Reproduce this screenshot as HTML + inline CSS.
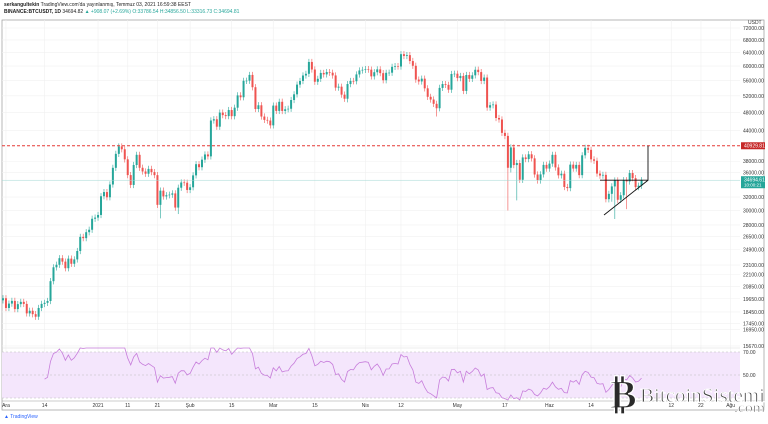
<!DOCTYPE html>
<html><head><meta charset="utf-8"><style>
body{margin:0;background:#fff;font-family:"Liberation Sans",sans-serif}
#w{position:relative;width:768px;height:424px;overflow:hidden}
.t{position:absolute;font-size:5px;color:#222;white-space:nowrap}
</style></head><body>
<div id="w">
<div class="t" style="left:4px;top:2px;font-size:5px"><b>serkangultekin</b> TradingView.com'da yayınlanmış, Temmuz 03, 2021 16:59:38 EEST</div>
<div class="t" style="left:4px;top:9px;font-size:5px"><b>BINANCE:BTCUSDT, 1D</b> 34694.82 <span style="color:#26a69a">▲ +908.07 (+2.69%) O:33786.54 H:34856.50 L:33316.73 C:34694.81</span></div>
<svg id="s" width="768" height="424" style="position:absolute;left:0;top:0"></svg>
<div style="position:absolute;left:4px;top:414px;font-size:5px;color:#2962ff">▲ TradingView</div>
<svg width="768" height="424" style="position:absolute;left:0;top:0">
<text x="610" y="408" font-family="Liberation Serif" font-weight="bold" font-size="40" fill="#2a2a2a" stroke="#fff" stroke-width="1.2">₿</text>
<text x="640" y="402" font-family="Liberation Serif" font-size="20" fill="#3a3a3a" stroke="#fff" stroke-width="0.8" textLength="125" lengthAdjust="spacingAndGlyphs">BitcoinSistemi</text>
<text x="734" y="412" font-family="Liberation Serif" font-size="14" fill="#3a3a3a" stroke="#fff" stroke-width="0.6" textLength="31" lengthAdjust="spacingAndGlyphs">.com</text>
</svg>
</div>
<script>
const closes=[19700,18800,19200,19450,18700,19150,19360,19170,18320,18550,18250,18030,18800,19170,19270,19440,21380,22850,23130,23870,23480,22750,23820,23240,23730,24710,26440,26280,27040,27360,28840,29000,
29370,32130,32780,31970,33990,36820,39370,40800,40250,38350,35560,33920,37320,39190,36830,36180,35790,36630,36070,35550,30830,33000,32100,32290,32370,32570,30430,33470,34320,34280,33110,
33540,35510,37470,36930,38290,39260,38900,46200,46480,44850,47990,47410,47190,48580,47170,49130,52120,51650,55890,55920,57490,54200,48820,49700,47090,46340,46190,45140,
49630,48380,50540,48370,48760,48880,50970,52380,54880,55850,57330,57800,61180,59000,55640,56430,58040,57640,58290,58100,57350,54090,54340,52300,51290,55030,55850,55780,57630,58730,58920,
59100,58960,57090,58240,59040,57980,56040,58080,58110,59770,59980,59850,63500,62970,63220,61450,60070,56220,55720,56470,53910,51760,51090,50050,49000,54020,55030,54820,53560,57750,
57830,56630,57210,53240,57470,56430,57380,58930,58280,55860,56770,49150,49720,49880,46760,46430,43540,42910,36830,40600,37310,37680,34770,38700,38400,39290,38530,35660,34650,35680,37340,
36690,37570,39190,36890,35520,35800,33590,33410,37390,36690,37340,35550,39100,40520,40140,38350,38090,35820,35480,35600,31680,32500,33680,34660,31590,32280,34700,34490,35910,35040,
33570,33800,34690];
const lows=[[170,30000],[171,36000],[173,31500],[53,28900],[59,29500],[206,28800],[210,30200],[116,50400],[146,47100],[205,31300]];
const priceTicks=[72000,68000,64000,60000,56000,52000,48000,44000,38000,36000,32000,30000,28000,26500,24900,23100,22100,20850,19650,18450,17450,16950,15670];
const timeLabels=["Ara","14","2021","11","21","Şub","15","Mar","15","Nis","12","May","17","Haz","14","12","22","Ağu"];
const timeDays=[1,14,32,42,52,63,77,91,105,122,134,153,169,184,198,225,235,245];
const resistance=40929.81, last=34694.61;
const NS="http://www.w3.org/2000/svg",S=document.getElementById('s');
const Y=p=>28+208.5*Math.log(72000/p);
const X=i=>3+i*2.97;
const RY=v=>352+(70-v)*1.15;
function el(t,a,p){const e=document.createElementNS(NS,t);for(const k in a)e.setAttribute(k,a[k]);(p||S).appendChild(e);return e;}
let f=el('rect',{x:2,y:20,width:762,height:390,fill:'none',stroke:'#999','stroke-width':0.7});

priceTicks.forEach(p=>{let l=el('line',{x1:2,x2:740,y1:Y(p),y2:Y(p),stroke:'#f0f0f0','stroke-width':0.6});

let t=el('text',{x:743,y:Y(p)+2,'font-size':5,fill:'#333','font-family':'Liberation Sans'});t.textContent=p.toFixed(2);
});
timeLabels.forEach((s,i)=>{const x=X(timeDays[i]);let l=el('line',{x1:x,x2:x,y1:20,y2:400,stroke:'#f0f0f0','stroke-width':0.6});

let t=el('text',{x:x,y:407,'font-size':5,fill:'#333','text-anchor':'middle','font-family':'Liberation Sans'});t.textContent=s;
});
let ut=el('text',{x:748,y:24,'font-size':5,fill:'#333'});ut.textContent='USDT';
let sep=el('line',{x1:2,x2:740,y1:348,y2:348,stroke:'#ddd','stroke-width':0.6});
let tb=el('line',{x1:2,x2:764,y1:401,y2:401,stroke:'#999','stroke-width':0.6});
let band=el('rect',{x:2,y:RY(70),width:738,height:RY(30)-RY(70),fill:'#f4e6fc'});
[70,50,30].forEach(v=>{let l=el('line',{x1:2,x2:740,y1:RY(v),y2:RY(v),stroke:'#bbb','stroke-width':0.5,'stroke-dasharray':'2,2'});

if(v!==30){let t=el('text',{x:743,y:RY(v)+2,'font-size':5,fill:'#333'});t.textContent=v.toFixed(2);}});
let pts=[],ag=0,al=0;
for(let i=1;i<closes.length;i++){const d=closes[i]-closes[i-1],g=Math.max(d,0),lo=Math.max(-d,0);
if(i<=14){ag+=g/14;al+=lo/14;}else{ag=(ag*13+g)/14;al=(al*13+lo)/14;}
if(i>=14){const r=100-100/(1+ag/(al||1e-9));pts.push(X(i)+','+Math.max(348,Math.min(400,RY(r))).toFixed(1));}}
let rl=el('polyline',{points:pts.join(' '),fill:'none',stroke:'#c77ddb','stroke-width':0.8});
const lowMap={};lows.forEach(([i,v])=>lowMap[i]=v);
closes.forEach((c,i)=>{const o=i?closes[i-1]:c*0.99,up=c>=o,col=up?'#26a69a':'#ef5350';
const hi=Math.max(o,c)*1.015,lo=lowMap[i]||Math.min(o,c)*0.985,x=X(i);
let w=el('line',{x1:x,x2:x,y1:Y(hi),y2:Y(lo),stroke:col,'stroke-width':0.6});
const y1=Y(Math.max(o,c)),y2=Y(Math.min(o,c));
let b=el('rect',{x:x-1,y:y1,width:2,height:Math.max(0.6,y2-y1),fill:col});});
let rr=el('line',{x1:2,x2:740,y1:Y(resistance),y2:Y(resistance),stroke:'#e53935','stroke-width':0.9,'stroke-dasharray':'3,2'});
let ll=el('line',{x1:2,x2:740,y1:Y(last),y2:Y(last),stroke:'#9fd8d2','stroke-width':0.5});
let rb=el('rect',{x:741,y:Y(resistance)-3.5,width:24,height:7,fill:'#c62828'});
let rt=el('text',{x:744,y:Y(resistance)+1.8,'font-size':5,fill:'#fff'});rt.textContent=resistance.toFixed(2);
let lb=el('rect',{x:741,y:Y(last)-4,width:24,height:12,fill:'#26a69a'});
let lt=el('text',{x:744,y:Y(last)+1.5,'font-size':5,fill:'#fff'});lt.textContent=last.toFixed(2);
let lt2=el('text',{x:744,y:Y(last)+6.5,'font-size':4.5,fill:'#fff'});lt2.textContent='10:00:21';
let tri=el('path',{d:`M604,215 L648,${Y(last)} M600,${Y(last)} L648,${Y(last)} L648,${Y(resistance)}`,fill:'none',stroke:'#111','stroke-width':0.9});

</script>
</body></html>
